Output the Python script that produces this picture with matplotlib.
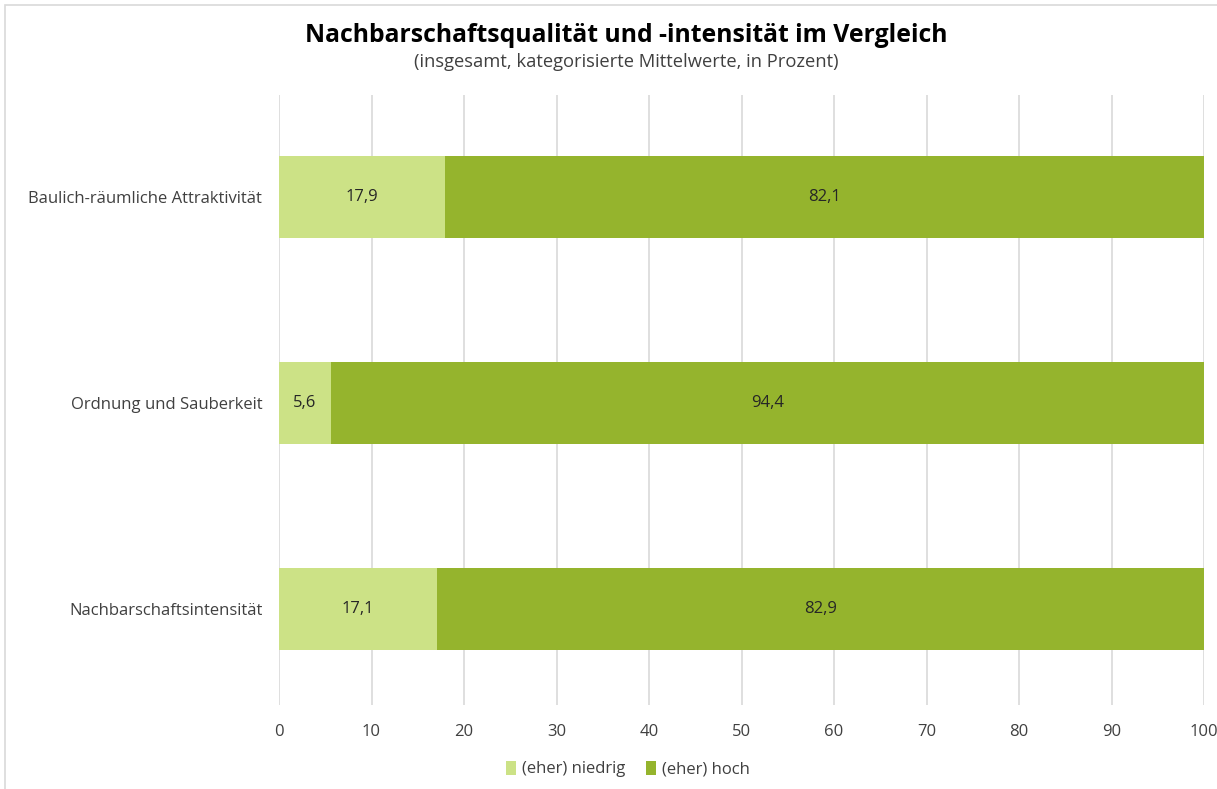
import matplotlib.pyplot as plt
from matplotlib.patches import Rectangle

kategorien = ["Baulich-räumliche Attraktivität", "Ordnung und Sauberkeit", "Nachbarschaftsintensität"]
niedrig = [17.9, 5.6, 17.1]
hoch = [82.1, 94.4, 82.9]
farbe_niedrig = "#CCE286"
farbe_hoch = "#95B42D"

plt.rcParams['font.family'] = ['Open Sans', 'DejaVu Sans']

fig = plt.figure(figsize=(12.17, 7.89), dpi=100)
ax = fig.add_axes([279/1217, 1-705/789, (1204-279)/1217, (705-95)/789])

pos = list(range(len(kategorien)))
b1 = ax.barh(pos, niedrig, height=0.4, color=farbe_niedrig, label="(eher) niedrig", zorder=3)
b2 = ax.barh(pos, hoch, left=niedrig, height=0.4, color=farbe_hoch, label="(eher) hoch", zorder=3)

for bars, vals in ((b1, niedrig), (b2, hoch)):
    for rect, v in zip(bars, vals):
        ax.text(rect.get_x() + rect.get_width()/2, rect.get_y() + rect.get_height()/2,
                f"{v:.1f}".replace(".", ","), ha="center", va="center",
                fontsize=12, color="#262626", zorder=4)

ax.set_ylim(2.465, -0.495)
ax.set_xlim(0, 100)
ax.set_xticks(range(0, 101, 10))
ax.set_yticks(pos)
ax.set_yticklabels(kategorien)
ax.tick_params(length=0, labelsize=12, labelcolor="#404040")
ax.tick_params(axis="x", pad=14)
ax.tick_params(axis="y", pad=12)
ax.grid(axis="x", color="#D9D9D9", linewidth=1.2, zorder=0)
for s in ax.spines.values():
    s.set_visible(False)

fig.text(626/1217, 1-35/789, "Nachbarschaftsqualität und -intensität im Vergleich",
         ha="center", va="center", fontsize=17.8, fontweight="bold", color="#000000")
fig.text(626/1217, 1-62/789, "(insgesamt, kategorisierte Mittelwerte, in Prozent)",
         ha="center", va="center", fontsize=13.2, color="#404040")

fig.legend(loc="center", bbox_to_anchor=(628/1217, 1-769/789), ncol=2, frameon=False,
           fontsize=12, handlelength=0.6, handleheight=0.9, handletextpad=0.4,
           columnspacing=1.2, labelcolor="#404040")

fig.patches.append(Rectangle((5/1217, -0.1), 1.2, 1-5/789+0.1, transform=fig.transFigure,
                             fill=False, edgecolor="#D9D9D9", linewidth=1.2))

fig.savefig("out.png", dpi=100)
